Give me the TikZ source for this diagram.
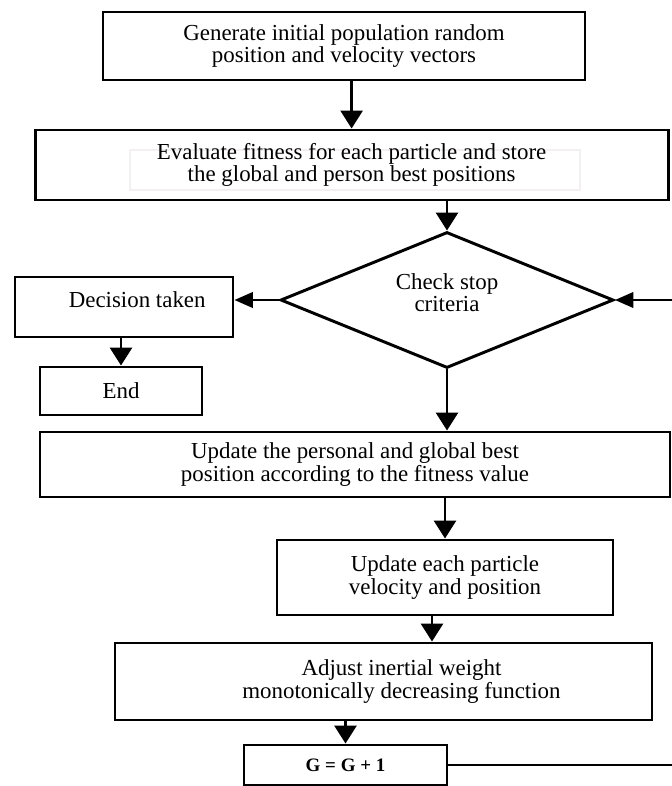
\documentclass[tikz,border=0pt]{standalone}
\usepackage{fontspec}
\setmainfont{Liberation Serif}
\usetikzlibrary{arrows.meta,positioning,shapes.geometric}
\definecolor{ink}{HTML}{000000}
\definecolor{ghost}{HTML}{F4F0F2}
\tikzset{
  procbox/.style={draw=ink,line width=2.1pt,align=center,text=ink,inner sep=0pt,
                  font=\fontsize{16.3}{15.8}\selectfont},
  check/.style={diamond,draw=ink,line width=2.1pt,inner sep=0pt,aspect=2.45,
                minimum width=8.325cm,minimum height=3.4cm},
  lbl/.style={align=center,text=ink,inner sep=0pt,font=\fontsize{16.3}{15.8}\selectfont},
  flowarr/.style={-{Triangle[length=4.5mm,width=5.5mm]},line width=2.1pt,draw=ink},
  loopflow/.style={-{Triangle[length=4.6mm,width=3.9mm]},line width=1.5pt,draw=ink},
}

\begin{document}
\begin{tikzpicture}
  \useasboundingbox (0,0) rectangle (16.8,-19.65);

  \node[procbox,minimum width=12.05cm,minimum height=1.7cm] (gen) at (8.6,-1.15)
       {Generate initial population random\\position and velocity vectors};
  % faint leftover frame behind the second box
  \draw[ghost,line width=1.5pt] (3.25,-3.75) rectangle (14.5,-4.75);
  \node[procbox,minimum width=15.825cm,minimum height=1.75cm] (eval) at (8.79,-4.125)
       {Evaluate fitness for each particle and store\\the global and person best positions};
  \node[check] (chk) at (11.175,-7.5) {};
  \node[lbl] (chktxt) at ([yshift=0.18cm]chk.center) {Check stop\\criteria};

  \node[procbox,minimum width=5.45cm,minimum height=1.5cm] (dec) at (3.1,-7.675) {};
  \node[lbl] (dectxt) at ([xshift=0.33cm,yshift=0.18cm]dec.center) {Decision taken};
  \node[procbox,minimum width=4.05cm,minimum height=1.2cm] (fin) at (3.025,-9.775) {End};

  \node[procbox,minimum width=15.75cm,minimum height=1.625cm] (upd) at (8.875,-11.6125)
       {Update the personal and global best\\position according to the fitness value};
  \node[procbox,minimum width=8.4cm,minimum height=1.875cm] (vel) at (11.125,-14.4375)
       {Update each particle\\velocity and position};
  \node[procbox,minimum width=13.425cm,minimum height=1.925cm] (adj) at (9.5875,-17.0375) {};
  \node[lbl] (adjtxt) at ([xshift=0.45cm]adj.center)
       {Adjust inertial weight\\monotonically decreasing function};
  \node[procbox,minimum width=5.075cm,minimum height=1.0cm,
        font=\fontsize{13.5}{14}\selectfont\bfseries] (inc) at (8.6375,-19.125) {G = G + 1};

  \coordinate (rt) at (17.0,-7.5);

  \draw[flowarr] (gen.south -| eval.north) -- (eval.north);
  \draw[flowarr] (eval.south -| chk.north) -- (chk.north);
  \draw[loopflow] (chk.west) -- (dec.east |- chk.west);
  \draw[flowarr] (dec.south -| fin.north) -- (fin.north);
  \draw[flowarr] (chk.south) -- (chk.south |- upd.north);
  \draw[flowarr] (upd.south -| vel.north) -- (vel.north);
  \draw[flowarr] ([xshift=-0.325cm]vel.south) -- ([xshift=-0.325cm]vel.south |- adj.north);
  \draw[flowarr] (adj.south -| inc.north) -- (inc.north);
  \draw[loopflow] (inc.east) -| (rt) -- (chk.east);
\end{tikzpicture}
\end{document}
